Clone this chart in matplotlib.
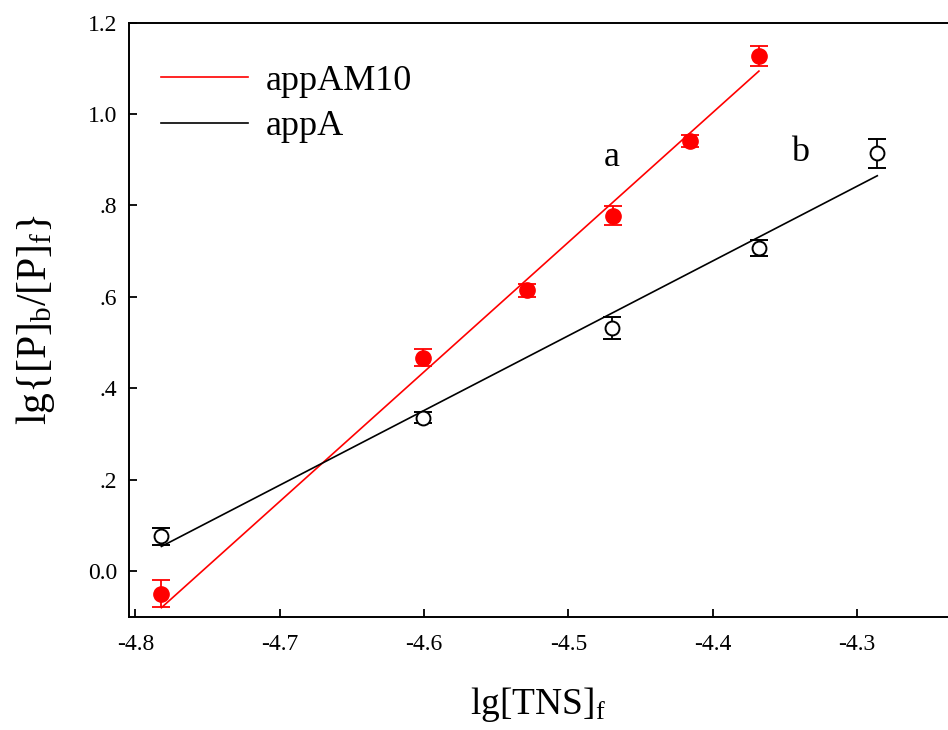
import numpy as np
import matplotlib
matplotlib.use("Agg")
from matplotlib import pyplot as plt

plt.rcParams['font.family'] = ['Liberation Serif', 'DejaVu Serif']
plt.rcParams['mathtext.fontset'] = 'custom'
plt.rcParams['mathtext.rm'] = 'Liberation Serif'
plt.rcParams['mathtext.it'] = 'Liberation Serif:italic'
plt.rcParams['mathtext.bf'] = 'Liberation Serif:bold'

# appAM10 (red, filled)
am10_x = [-4.782, -4.601, -4.529, -4.469, -4.416, -4.368]
am10_y = [-0.049, 0.467, 0.614, 0.778, 0.942, 1.127]
am10_err = [0.030, 0.019, 0.015, 0.020, 0.013, 0.022]
am10_fit_x = [-4.782, -4.368]
am10_fit_y = [-0.080, 1.094]

# appA (black, open)
appa_x = [-4.782, -4.601, -4.470, -4.368, -4.286]
appa_y = [0.076, 0.336, 0.531, 0.707, 0.914]
appa_err = [0.018, 0.013, 0.024, 0.017, 0.032]
appa_fit_x = [-4.782, -4.286]
appa_fit_y = [0.054, 0.865]

xticks = [-4.8, -4.7, -4.6, -4.5, -4.4, -4.3]
xticklabels = ['-4.8', '-4.7', '-4.6', '-4.5', '-4.4', '-4.3']
yticks = [0.0, 0.2, 0.4, 0.6, 0.8, 1.0, 1.2]
yticklabels = ['0.0', '.2', '.4', '.6', '.8', '1.0', '1.2']

fig = plt.figure(figsize=(9.48, 7.3), dpi=100)
ax = fig.add_axes([0.136, 0.155, 0.864, 0.814])

red = '#ff0000'

# fitted lines
ax.plot(am10_fit_x, am10_fit_y, color=red, lw=1.2, label='appAM10')
ax.plot(appa_fit_x, appa_fit_y, color='black', lw=1.2, label='appA')

ax.errorbar(am10_x, am10_y, yerr=am10_err, fmt='o', color=red, ms=11,
            mec=red, mfc=red, ecolor=red, elinewidth=1.3, capsize=6.4, capthick=1.3)
ax.errorbar(appa_x, appa_y, yerr=appa_err, fmt='o', color='black', ms=10,
            mec='black', mfc='white', mew=1.4, ecolor='black', elinewidth=1.3,
            capsize=6.4, capthick=1.3)

ax.text(-4.470, 0.905, 'a', fontsize=26, ha='center', va='center')
ax.text(-4.3395, 0.915, 'b', fontsize=26, ha='center', va='center')

ax.set_xlim(-4.8045, -4.237)
ax.set_ylim(-0.1, 1.2)
ax.set_xticks(xticks)
ax.set_xticklabels(xticklabels)
ax.set_yticks(yticks)
ax.set_yticklabels(yticklabels)
ax.tick_params(direction='in', length=6, width=1.3, labelsize=17)
ax.tick_params(axis='y', pad=8.6)
ax.tick_params(axis='x', pad=12)
ax.spines['right'].set_visible(False)
for s in ['left', 'bottom', 'top']:
    ax.spines[s].set_linewidth(1.4)

ax.set_xlabel(r'$\mathrm{lg[TNS]_f}$', fontsize=27, labelpad=22)
ax.set_ylabel(r'$\mathrm{lg\{[P]_b/[P]_f\}}$', fontsize=30, labelpad=22)

ax.legend(loc='upper left', bbox_to_anchor=(-0.005, 0.99), frameon=False, fontsize=26,
          handlelength=2.4, handletextpad=0.5, labelspacing=0.33, borderaxespad=0.6)

fig.savefig('out.png', dpi=100)
